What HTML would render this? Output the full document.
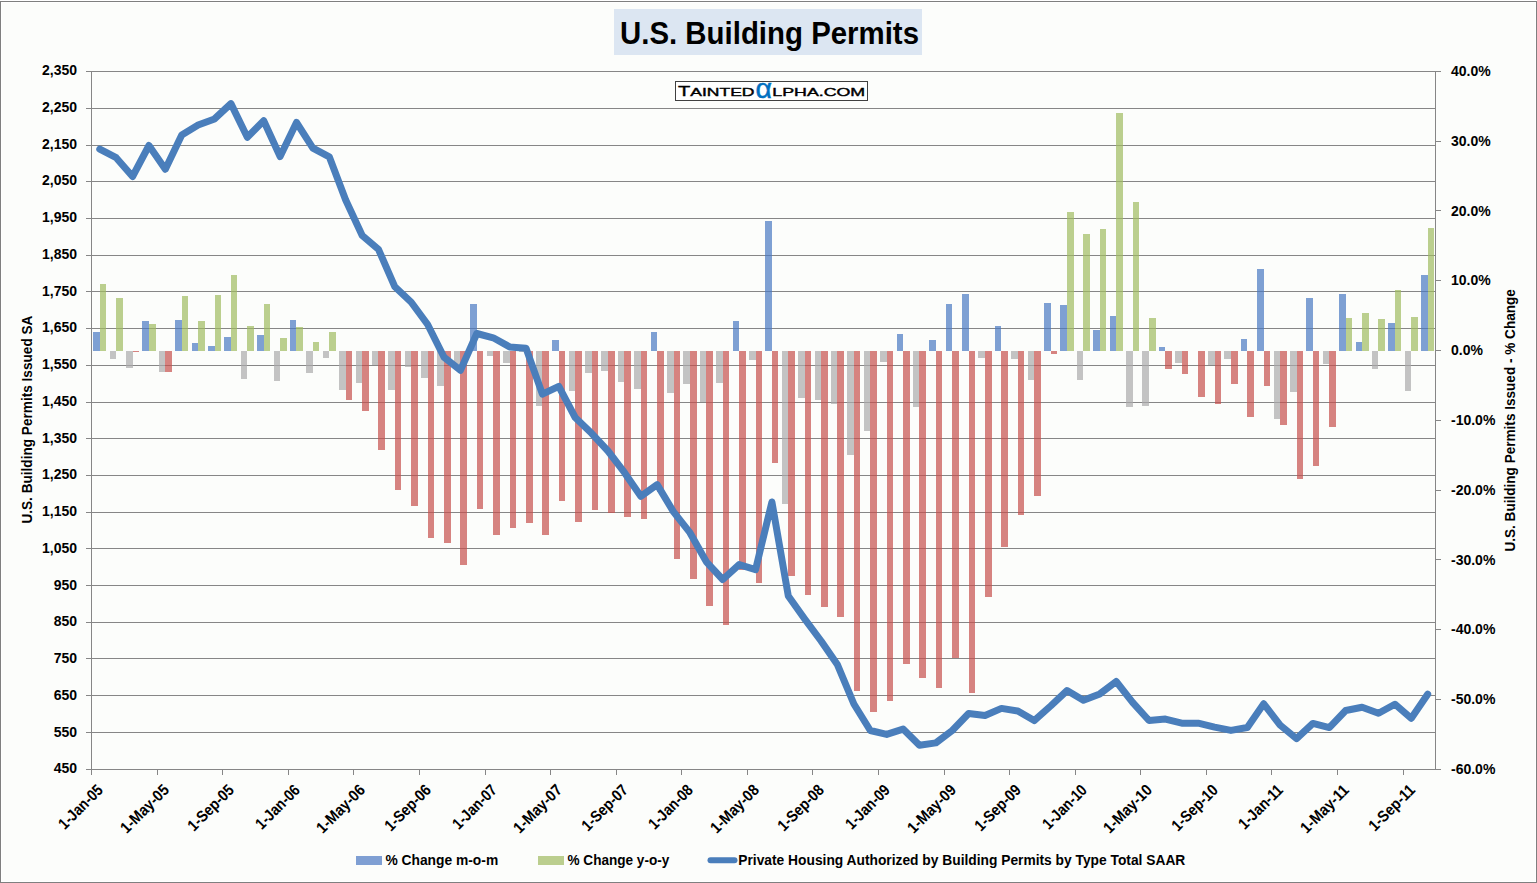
<!DOCTYPE html><html><head><meta charset="utf-8"><style>html,body{margin:0;padding:0;background:#fff;width:1537px;height:883px;overflow:hidden}svg{display:block}text{font-family:"Liberation Sans",sans-serif;font-weight:bold;fill:#000}</style></head><body>
<svg width="1537" height="883" viewBox="0 0 1537 883">
<rect x="0" y="0" width="1537" height="883" fill="#FFFFFF"/>
<rect x="2" y="3" width="1533" height="878" fill="#FCFDFB"/>
<g shape-rendering="crispEdges" fill="#7F7F7F">
<rect x="0" y="1" width="1537" height="1"/><rect x="0" y="1" width="1" height="882"/><rect x="1536" y="1" width="1" height="882"/><rect x="0" y="882" width="1537" height="1"/>
</g>
<rect x="614" y="9" width="308" height="46" fill="#DCE6F2"/>
<text x="620" y="43.6" font-size="32" textLength="299" lengthAdjust="spacingAndGlyphs">U.S. Building Permits</text>
<rect x="675.5" y="81.5" width="192" height="19" fill="#FFFFFF" stroke="#404040" stroke-width="1"/>
<text x="678" y="96.2" font-size="15" font-weight="normal" style="font-weight:normal;stroke:#000;stroke-width:0.4" textLength="12.3" lengthAdjust="spacingAndGlyphs">T</text>
<text x="690.3" y="96.2" font-size="11.6" style="font-weight:normal;stroke:#000;stroke-width:0.4" textLength="64.2" lengthAdjust="spacingAndGlyphs">AINTED</text>
<text x="755.5" y="98.3" font-size="28" style="fill:#0070C0;font-weight:normal;stroke:#0070C0;stroke-width:0.5" textLength="16.5" lengthAdjust="spacingAndGlyphs">&#945;</text>
<text x="772.3" y="96.2" font-size="11.6" style="font-weight:normal;stroke:#000;stroke-width:0.4" textLength="92.9" lengthAdjust="spacingAndGlyphs">LPHA.COM</text>
<g shape-rendering="crispEdges" fill="#868686">
<rect x="86" y="71" width="1350" height="1"/>
<rect x="86" y="108" width="1350" height="1"/>
<rect x="86" y="145" width="1350" height="1"/>
<rect x="86" y="181" width="1350" height="1"/>
<rect x="86" y="218" width="1350" height="1"/>
<rect x="86" y="255" width="1350" height="1"/>
<rect x="86" y="291" width="1350" height="1"/>
<rect x="86" y="328" width="1350" height="1"/>
<rect x="86" y="365" width="1350" height="1"/>
<rect x="86" y="402" width="1350" height="1"/>
<rect x="86" y="438" width="1350" height="1"/>
<rect x="86" y="475" width="1350" height="1"/>
<rect x="86" y="512" width="1350" height="1"/>
<rect x="86" y="548" width="1350" height="1"/>
<rect x="86" y="585" width="1350" height="1"/>
<rect x="86" y="622" width="1350" height="1"/>
<rect x="86" y="658" width="1350" height="1"/>
<rect x="86" y="695" width="1350" height="1"/>
<rect x="86" y="732" width="1350" height="1"/>
<rect x="86" y="769" width="1350" height="1"/>
<rect x="91" y="71" width="1" height="704"/>
<rect x="1435" y="71" width="1" height="699"/>
<rect x="1436" y="71" width="5" height="1"/>
<rect x="1436" y="141" width="5" height="1"/>
<rect x="1436" y="210" width="5" height="1"/>
<rect x="1436" y="280" width="5" height="1"/>
<rect x="1436" y="350" width="5" height="1"/>
<rect x="1436" y="420" width="5" height="1"/>
<rect x="1436" y="490" width="5" height="1"/>
<rect x="1436" y="559" width="5" height="1"/>
<rect x="1436" y="629" width="5" height="1"/>
<rect x="1436" y="699" width="5" height="1"/>
<rect x="1436" y="769" width="5" height="1"/>
<rect x="91" y="770" width="1" height="5"/>
<rect x="157" y="770" width="1" height="5"/>
<rect x="222" y="770" width="1" height="5"/>
<rect x="288" y="770" width="1" height="5"/>
<rect x="353" y="770" width="1" height="5"/>
<rect x="419" y="770" width="1" height="5"/>
<rect x="485" y="770" width="1" height="5"/>
<rect x="550" y="770" width="1" height="5"/>
<rect x="616" y="770" width="1" height="5"/>
<rect x="681" y="770" width="1" height="5"/>
<rect x="747" y="770" width="1" height="5"/>
<rect x="812" y="770" width="1" height="5"/>
<rect x="878" y="770" width="1" height="5"/>
<rect x="944" y="770" width="1" height="5"/>
<rect x="1009" y="770" width="1" height="5"/>
<rect x="1075" y="770" width="1" height="5"/>
<rect x="1140" y="770" width="1" height="5"/>
<rect x="1206" y="770" width="1" height="5"/>
<rect x="1271" y="770" width="1" height="5"/>
<rect x="1337" y="770" width="1" height="5"/>
<rect x="1403" y="770" width="1" height="5"/>
</g>
<g shape-rendering="crispEdges" fill-opacity="0.7">
<rect x="93" y="332" width="7" height="19" fill="#4977C2"/>
<rect x="100" y="284" width="6" height="67" fill="#9FBA5F"/>
<rect x="110" y="351" width="6" height="8" fill="#ABAAAB"/>
<rect x="116" y="298" width="7" height="53" fill="#9FBA5F"/>
<rect x="126" y="351" width="7" height="17" fill="#ABAAAB"/>
<rect x="133" y="351" width="6" height="1" fill="#C64F4B"/>
<rect x="142" y="321" width="7" height="30" fill="#4977C2"/>
<rect x="149" y="324" width="7" height="27" fill="#9FBA5F"/>
<rect x="159" y="351" width="6" height="21" fill="#ABAAAB"/>
<rect x="165" y="351" width="7" height="21" fill="#C64F4B"/>
<rect x="175" y="320" width="7" height="31" fill="#4977C2"/>
<rect x="182" y="296" width="6" height="55" fill="#9FBA5F"/>
<rect x="192" y="343" width="6" height="8" fill="#4977C2"/>
<rect x="198" y="321" width="7" height="30" fill="#9FBA5F"/>
<rect x="208" y="346" width="7" height="5" fill="#4977C2"/>
<rect x="215" y="295" width="6" height="56" fill="#9FBA5F"/>
<rect x="224" y="337" width="7" height="14" fill="#4977C2"/>
<rect x="231" y="275" width="6" height="76" fill="#9FBA5F"/>
<rect x="241" y="351" width="6" height="28" fill="#ABAAAB"/>
<rect x="247" y="326" width="7" height="25" fill="#9FBA5F"/>
<rect x="257" y="335" width="7" height="16" fill="#4977C2"/>
<rect x="264" y="304" width="6" height="47" fill="#9FBA5F"/>
<rect x="274" y="351" width="6" height="30" fill="#ABAAAB"/>
<rect x="280" y="338" width="7" height="13" fill="#9FBA5F"/>
<rect x="290" y="320" width="6" height="31" fill="#4977C2"/>
<rect x="296" y="327" width="7" height="24" fill="#9FBA5F"/>
<rect x="306" y="351" width="7" height="22" fill="#ABAAAB"/>
<rect x="313" y="342" width="6" height="9" fill="#9FBA5F"/>
<rect x="323" y="351" width="6" height="7" fill="#ABAAAB"/>
<rect x="329" y="332" width="7" height="19" fill="#9FBA5F"/>
<rect x="339" y="351" width="7" height="39" fill="#ABAAAB"/>
<rect x="346" y="351" width="6" height="49" fill="#C64F4B"/>
<rect x="356" y="351" width="6" height="32" fill="#ABAAAB"/>
<rect x="362" y="351" width="7" height="60" fill="#C64F4B"/>
<rect x="372" y="351" width="6" height="14" fill="#ABAAAB"/>
<rect x="378" y="351" width="7" height="99" fill="#C64F4B"/>
<rect x="388" y="351" width="7" height="39" fill="#ABAAAB"/>
<rect x="395" y="351" width="6" height="139" fill="#C64F4B"/>
<rect x="405" y="351" width="6" height="16" fill="#ABAAAB"/>
<rect x="411" y="351" width="7" height="155" fill="#C64F4B"/>
<rect x="421" y="351" width="7" height="27" fill="#ABAAAB"/>
<rect x="428" y="351" width="6" height="187" fill="#C64F4B"/>
<rect x="437" y="351" width="7" height="35" fill="#ABAAAB"/>
<rect x="444" y="351" width="7" height="192" fill="#C64F4B"/>
<rect x="454" y="351" width="6" height="15" fill="#ABAAAB"/>
<rect x="460" y="351" width="7" height="214" fill="#C64F4B"/>
<rect x="470" y="304" width="7" height="47" fill="#4977C2"/>
<rect x="477" y="351" width="6" height="158" fill="#C64F4B"/>
<rect x="487" y="351" width="6" height="5" fill="#ABAAAB"/>
<rect x="493" y="351" width="7" height="184" fill="#C64F4B"/>
<rect x="503" y="351" width="7" height="12" fill="#ABAAAB"/>
<rect x="510" y="351" width="6" height="177" fill="#C64F4B"/>
<rect x="519" y="351" width="7" height="1" fill="#ABAAAB"/>
<rect x="526" y="351" width="7" height="172" fill="#C64F4B"/>
<rect x="536" y="351" width="6" height="55" fill="#ABAAAB"/>
<rect x="542" y="351" width="7" height="184" fill="#C64F4B"/>
<rect x="552" y="340" width="7" height="11" fill="#4977C2"/>
<rect x="559" y="351" width="6" height="150" fill="#C64F4B"/>
<rect x="569" y="351" width="6" height="40" fill="#ABAAAB"/>
<rect x="575" y="351" width="7" height="171" fill="#C64F4B"/>
<rect x="585" y="351" width="7" height="22" fill="#ABAAAB"/>
<rect x="592" y="351" width="6" height="159" fill="#C64F4B"/>
<rect x="601" y="351" width="7" height="20" fill="#ABAAAB"/>
<rect x="608" y="351" width="7" height="162" fill="#C64F4B"/>
<rect x="618" y="351" width="6" height="31" fill="#ABAAAB"/>
<rect x="624" y="351" width="7" height="166" fill="#C64F4B"/>
<rect x="634" y="351" width="7" height="38" fill="#ABAAAB"/>
<rect x="641" y="351" width="6" height="168" fill="#C64F4B"/>
<rect x="651" y="332" width="6" height="19" fill="#4977C2"/>
<rect x="657" y="351" width="7" height="141" fill="#C64F4B"/>
<rect x="667" y="351" width="7" height="42" fill="#ABAAAB"/>
<rect x="674" y="351" width="6" height="208" fill="#C64F4B"/>
<rect x="683" y="351" width="7" height="33" fill="#ABAAAB"/>
<rect x="690" y="351" width="7" height="228" fill="#C64F4B"/>
<rect x="700" y="351" width="6" height="51" fill="#ABAAAB"/>
<rect x="706" y="351" width="7" height="255" fill="#C64F4B"/>
<rect x="716" y="351" width="7" height="32" fill="#ABAAAB"/>
<rect x="723" y="351" width="6" height="274" fill="#C64F4B"/>
<rect x="733" y="321" width="6" height="30" fill="#4977C2"/>
<rect x="739" y="351" width="7" height="219" fill="#C64F4B"/>
<rect x="749" y="351" width="7" height="9" fill="#ABAAAB"/>
<rect x="756" y="351" width="6" height="232" fill="#C64F4B"/>
<rect x="765" y="221" width="7" height="130" fill="#4977C2"/>
<rect x="772" y="351" width="6" height="112" fill="#C64F4B"/>
<rect x="782" y="351" width="6" height="153" fill="#ABAAAB"/>
<rect x="788" y="351" width="7" height="225" fill="#C64F4B"/>
<rect x="798" y="351" width="7" height="47" fill="#ABAAAB"/>
<rect x="805" y="351" width="6" height="244" fill="#C64F4B"/>
<rect x="815" y="351" width="6" height="49" fill="#ABAAAB"/>
<rect x="821" y="351" width="7" height="256" fill="#C64F4B"/>
<rect x="831" y="351" width="6" height="53" fill="#ABAAAB"/>
<rect x="837" y="351" width="7" height="266" fill="#C64F4B"/>
<rect x="847" y="351" width="7" height="104" fill="#ABAAAB"/>
<rect x="854" y="351" width="6" height="340" fill="#C64F4B"/>
<rect x="864" y="351" width="6" height="80" fill="#ABAAAB"/>
<rect x="870" y="351" width="7" height="361" fill="#C64F4B"/>
<rect x="880" y="351" width="7" height="11" fill="#ABAAAB"/>
<rect x="887" y="351" width="6" height="350" fill="#C64F4B"/>
<rect x="897" y="334" width="6" height="17" fill="#4977C2"/>
<rect x="903" y="351" width="7" height="313" fill="#C64F4B"/>
<rect x="913" y="351" width="6" height="56" fill="#ABAAAB"/>
<rect x="919" y="351" width="7" height="327" fill="#C64F4B"/>
<rect x="929" y="340" width="7" height="11" fill="#4977C2"/>
<rect x="936" y="351" width="6" height="337" fill="#C64F4B"/>
<rect x="946" y="304" width="6" height="47" fill="#4977C2"/>
<rect x="952" y="351" width="7" height="307" fill="#C64F4B"/>
<rect x="962" y="294" width="7" height="57" fill="#4977C2"/>
<rect x="969" y="351" width="6" height="342" fill="#C64F4B"/>
<rect x="978" y="351" width="7" height="7" fill="#ABAAAB"/>
<rect x="985" y="351" width="7" height="246" fill="#C64F4B"/>
<rect x="995" y="326" width="6" height="25" fill="#4977C2"/>
<rect x="1001" y="351" width="7" height="196" fill="#C64F4B"/>
<rect x="1011" y="351" width="7" height="8" fill="#ABAAAB"/>
<rect x="1018" y="351" width="6" height="164" fill="#C64F4B"/>
<rect x="1028" y="351" width="6" height="29" fill="#ABAAAB"/>
<rect x="1034" y="351" width="7" height="145" fill="#C64F4B"/>
<rect x="1044" y="303" width="7" height="48" fill="#4977C2"/>
<rect x="1051" y="351" width="6" height="3" fill="#C64F4B"/>
<rect x="1060" y="305" width="7" height="46" fill="#4977C2"/>
<rect x="1067" y="212" width="7" height="139" fill="#9FBA5F"/>
<rect x="1077" y="351" width="6" height="29" fill="#ABAAAB"/>
<rect x="1083" y="234" width="7" height="117" fill="#9FBA5F"/>
<rect x="1093" y="330" width="7" height="21" fill="#4977C2"/>
<rect x="1100" y="229" width="6" height="122" fill="#9FBA5F"/>
<rect x="1110" y="316" width="6" height="35" fill="#4977C2"/>
<rect x="1116" y="113" width="7" height="238" fill="#9FBA5F"/>
<rect x="1126" y="351" width="7" height="56" fill="#ABAAAB"/>
<rect x="1133" y="202" width="6" height="149" fill="#9FBA5F"/>
<rect x="1142" y="351" width="7" height="55" fill="#ABAAAB"/>
<rect x="1149" y="318" width="7" height="33" fill="#9FBA5F"/>
<rect x="1159" y="347" width="6" height="4" fill="#4977C2"/>
<rect x="1165" y="351" width="7" height="18" fill="#C64F4B"/>
<rect x="1175" y="351" width="7" height="12" fill="#ABAAAB"/>
<rect x="1182" y="351" width="6" height="23" fill="#C64F4B"/>
<rect x="1198" y="351" width="7" height="46" fill="#C64F4B"/>
<rect x="1208" y="351" width="7" height="14" fill="#ABAAAB"/>
<rect x="1215" y="351" width="6" height="53" fill="#C64F4B"/>
<rect x="1224" y="351" width="7" height="8" fill="#ABAAAB"/>
<rect x="1231" y="351" width="7" height="33" fill="#C64F4B"/>
<rect x="1241" y="339" width="6" height="12" fill="#4977C2"/>
<rect x="1247" y="351" width="7" height="66" fill="#C64F4B"/>
<rect x="1257" y="269" width="7" height="82" fill="#4977C2"/>
<rect x="1264" y="351" width="6" height="35" fill="#C64F4B"/>
<rect x="1274" y="351" width="6" height="68" fill="#ABAAAB"/>
<rect x="1280" y="351" width="7" height="74" fill="#C64F4B"/>
<rect x="1290" y="351" width="7" height="41" fill="#ABAAAB"/>
<rect x="1297" y="351" width="6" height="128" fill="#C64F4B"/>
<rect x="1306" y="298" width="7" height="53" fill="#4977C2"/>
<rect x="1313" y="351" width="6" height="115" fill="#C64F4B"/>
<rect x="1323" y="351" width="6" height="13" fill="#ABAAAB"/>
<rect x="1329" y="351" width="7" height="76" fill="#C64F4B"/>
<rect x="1339" y="294" width="7" height="57" fill="#4977C2"/>
<rect x="1346" y="318" width="6" height="33" fill="#9FBA5F"/>
<rect x="1356" y="342" width="6" height="9" fill="#4977C2"/>
<rect x="1362" y="313" width="7" height="38" fill="#9FBA5F"/>
<rect x="1372" y="351" width="6" height="18" fill="#ABAAAB"/>
<rect x="1378" y="319" width="7" height="32" fill="#9FBA5F"/>
<rect x="1388" y="323" width="7" height="28" fill="#4977C2"/>
<rect x="1395" y="290" width="6" height="61" fill="#9FBA5F"/>
<rect x="1405" y="351" width="6" height="40" fill="#ABAAAB"/>
<rect x="1411" y="317" width="7" height="34" fill="#9FBA5F"/>
<rect x="1421" y="275" width="7" height="76" fill="#4977C2"/>
<rect x="1428" y="228" width="6" height="123" fill="#9FBA5F"/>
</g>
<polyline points="99.77,149.20 116.16,157.70 132.56,176.50 148.95,145.50 165.34,169.20 181.74,134.90 198.13,125.10 214.52,118.90 230.92,103.60 247.31,137.30 263.71,120.80 280.10,156.50 296.50,122.50 312.89,148.10 329.28,156.80 345.68,200.00 362.07,235.30 378.46,249.30 394.86,286.80 411.25,302.20 427.65,324.50 444.04,357.30 460.43,370.30 476.83,333.50 493.22,337.80 509.62,346.90 526.01,348.20 542.40,394.20 558.80,386.30 575.19,417.50 591.59,433.30 607.98,451.00 624.38,472.40 640.77,496.30 657.16,484.60 673.56,511.90 689.95,532.70 706.35,561.80 722.74,579.50 739.13,564.60 755.53,569.70 771.92,502.00 788.31,596.00 804.71,619.00 821.10,641.00 837.50,664.80 853.89,704.00 870.28,730.50 886.68,734.40 903.07,729.10 919.47,745.30 935.86,742.90 952.25,730.50 968.65,713.50 985.04,715.50 1001.44,708.40 1017.83,711.00 1034.22,720.60 1050.62,706.00 1067.01,690.60 1083.41,700.30 1099.80,693.90 1116.19,681.50 1132.59,702.30 1148.98,720.50 1165.38,719.10 1181.77,723.20 1198.16,723.20 1214.56,727.10 1230.95,730.40 1247.35,727.50 1263.74,703.80 1280.13,725.10 1296.53,738.60 1312.92,723.40 1329.32,727.60 1345.71,710.50 1362.10,707.20 1378.50,713.30 1394.89,704.20 1411.29,718.30 1427.68,694.20" fill="none" stroke="#4A7EBB" stroke-width="7" stroke-linejoin="round" stroke-linecap="round"/>
<text x="77" y="75.2" font-size="14" text-anchor="end">2,350</text>
<text x="77" y="111.9" font-size="14" text-anchor="end">2,250</text>
<text x="77" y="148.7" font-size="14" text-anchor="end">2,150</text>
<text x="77" y="185.4" font-size="14" text-anchor="end">2,050</text>
<text x="77" y="222.1" font-size="14" text-anchor="end">1,950</text>
<text x="77" y="258.9" font-size="14" text-anchor="end">1,850</text>
<text x="77" y="295.6" font-size="14" text-anchor="end">1,750</text>
<text x="77" y="332.4" font-size="14" text-anchor="end">1,650</text>
<text x="77" y="369.1" font-size="14" text-anchor="end">1,550</text>
<text x="77" y="405.8" font-size="14" text-anchor="end">1,450</text>
<text x="77" y="442.6" font-size="14" text-anchor="end">1,350</text>
<text x="77" y="479.3" font-size="14" text-anchor="end">1,250</text>
<text x="77" y="516.0" font-size="14" text-anchor="end">1,150</text>
<text x="77" y="552.8" font-size="14" text-anchor="end">1,050</text>
<text x="77" y="589.5" font-size="14" text-anchor="end">950</text>
<text x="77" y="626.3" font-size="14" text-anchor="end">850</text>
<text x="77" y="663.0" font-size="14" text-anchor="end">750</text>
<text x="77" y="699.7" font-size="14" text-anchor="end">650</text>
<text x="77" y="736.5" font-size="14" text-anchor="end">550</text>
<text x="77" y="773.2" font-size="14" text-anchor="end">450</text>
<text x="1451" y="76.0" font-size="14">40.0%</text>
<text x="1451" y="145.8" font-size="14">30.0%</text>
<text x="1451" y="215.6" font-size="14">20.0%</text>
<text x="1451" y="285.4" font-size="14">10.0%</text>
<text x="1451" y="355.2" font-size="14">0.0%</text>
<text x="1451" y="425.0" font-size="14">-10.0%</text>
<text x="1451" y="494.8" font-size="14">-20.0%</text>
<text x="1451" y="564.6" font-size="14">-30.0%</text>
<text x="1451" y="634.4" font-size="14">-40.0%</text>
<text x="1451" y="704.2" font-size="14">-50.0%</text>
<text x="1451" y="774.0" font-size="14">-60.0%</text>
<text transform="translate(104,791) rotate(-45)" x="0" y="0" font-size="16" text-anchor="end" textLength="55.5" lengthAdjust="spacingAndGlyphs">1-Jan-05</text>
<text transform="translate(170,791) rotate(-45)" x="0" y="0" font-size="16" text-anchor="end" textLength="61" lengthAdjust="spacingAndGlyphs">1-May-05</text>
<text transform="translate(235,791) rotate(-45)" x="0" y="0" font-size="16" text-anchor="end" textLength="58" lengthAdjust="spacingAndGlyphs">1-Sep-05</text>
<text transform="translate(301,791) rotate(-45)" x="0" y="0" font-size="16" text-anchor="end" textLength="55.5" lengthAdjust="spacingAndGlyphs">1-Jan-06</text>
<text transform="translate(366,791) rotate(-45)" x="0" y="0" font-size="16" text-anchor="end" textLength="61" lengthAdjust="spacingAndGlyphs">1-May-06</text>
<text transform="translate(432,791) rotate(-45)" x="0" y="0" font-size="16" text-anchor="end" textLength="58" lengthAdjust="spacingAndGlyphs">1-Sep-06</text>
<text transform="translate(498,791) rotate(-45)" x="0" y="0" font-size="16" text-anchor="end" textLength="55.5" lengthAdjust="spacingAndGlyphs">1-Jan-07</text>
<text transform="translate(563,791) rotate(-45)" x="0" y="0" font-size="16" text-anchor="end" textLength="61" lengthAdjust="spacingAndGlyphs">1-May-07</text>
<text transform="translate(629,791) rotate(-45)" x="0" y="0" font-size="16" text-anchor="end" textLength="58" lengthAdjust="spacingAndGlyphs">1-Sep-07</text>
<text transform="translate(694,791) rotate(-45)" x="0" y="0" font-size="16" text-anchor="end" textLength="55.5" lengthAdjust="spacingAndGlyphs">1-Jan-08</text>
<text transform="translate(760,791) rotate(-45)" x="0" y="0" font-size="16" text-anchor="end" textLength="61" lengthAdjust="spacingAndGlyphs">1-May-08</text>
<text transform="translate(825,791) rotate(-45)" x="0" y="0" font-size="16" text-anchor="end" textLength="58" lengthAdjust="spacingAndGlyphs">1-Sep-08</text>
<text transform="translate(891,791) rotate(-45)" x="0" y="0" font-size="16" text-anchor="end" textLength="55.5" lengthAdjust="spacingAndGlyphs">1-Jan-09</text>
<text transform="translate(957,791) rotate(-45)" x="0" y="0" font-size="16" text-anchor="end" textLength="61" lengthAdjust="spacingAndGlyphs">1-May-09</text>
<text transform="translate(1022,791) rotate(-45)" x="0" y="0" font-size="16" text-anchor="end" textLength="58" lengthAdjust="spacingAndGlyphs">1-Sep-09</text>
<text transform="translate(1088,791) rotate(-45)" x="0" y="0" font-size="16" text-anchor="end" textLength="55.5" lengthAdjust="spacingAndGlyphs">1-Jan-10</text>
<text transform="translate(1153,791) rotate(-45)" x="0" y="0" font-size="16" text-anchor="end" textLength="61" lengthAdjust="spacingAndGlyphs">1-May-10</text>
<text transform="translate(1219,791) rotate(-45)" x="0" y="0" font-size="16" text-anchor="end" textLength="58" lengthAdjust="spacingAndGlyphs">1-Sep-10</text>
<text transform="translate(1284,791) rotate(-45)" x="0" y="0" font-size="16" text-anchor="end" textLength="55.5" lengthAdjust="spacingAndGlyphs">1-Jan-11</text>
<text transform="translate(1350,791) rotate(-45)" x="0" y="0" font-size="16" text-anchor="end" textLength="61" lengthAdjust="spacingAndGlyphs">1-May-11</text>
<text transform="translate(1416,791) rotate(-45)" x="0" y="0" font-size="16" text-anchor="end" textLength="58" lengthAdjust="spacingAndGlyphs">1-Sep-11</text>
<text transform="translate(32.2,523.6) rotate(-90)" x="0" y="0" font-size="14.5" textLength="208" lengthAdjust="spacingAndGlyphs">U.S. Building Permits Issued SA</text>
<text transform="translate(1515.3,551.6) rotate(-90)" x="0" y="0" font-size="14.5" textLength="262.5" lengthAdjust="spacingAndGlyphs">U.S. Building Permits Issued - % Change</text>
<rect x="356" y="856" width="26" height="9" fill="#7F9FD3" shape-rendering="crispEdges"/>
<text x="385.4" y="865" font-size="14" textLength="112.8" lengthAdjust="spacingAndGlyphs">% Change m-o-m</text>
<rect x="538" y="856" width="26" height="9" fill="#BBCE8E" shape-rendering="crispEdges"/>
<text x="567.5" y="865" font-size="14" textLength="101.8" lengthAdjust="spacingAndGlyphs">% Change y-o-y</text>
<line x1="710.5" y1="860.3" x2="734.5" y2="860.3" stroke="#4A7EBB" stroke-width="6" stroke-linecap="round"/>
<text x="738.3" y="865" font-size="14" textLength="447" lengthAdjust="spacingAndGlyphs">Private Housing Authorized by Building Permits by Type Total SAAR</text>
</svg></body></html>
